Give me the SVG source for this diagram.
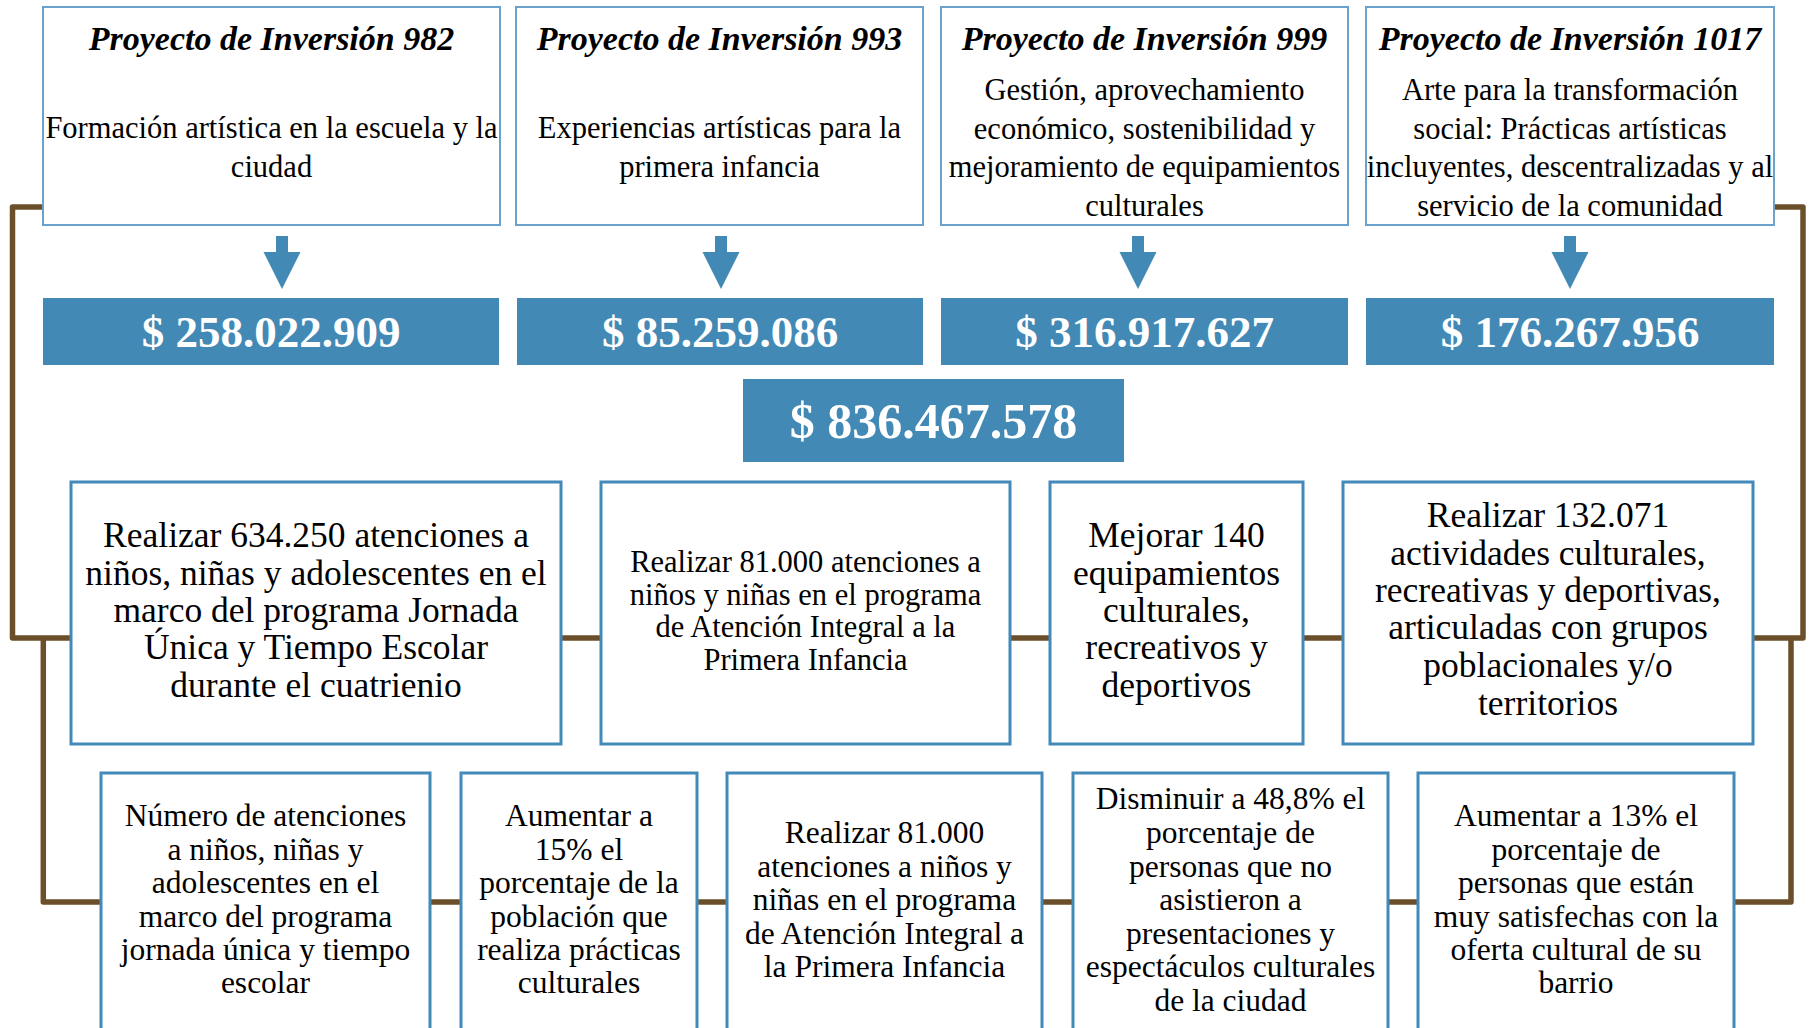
<svg xmlns="http://www.w3.org/2000/svg" width="1810" height="1028" viewBox="0 0 1810 1028">
<style>
  .bg { fill: #ffffff; }
  .top { fill: #ffffff; stroke: #6aa2cc; stroke-width: 2; }
  .box { fill: #ffffff; stroke: #4389ba; stroke-width: 3; }
  .val { fill: #428ab5; }
  .arrow { fill: #428ab5; }
  .conn { fill: none; stroke: #6b4f2a; stroke-width: 5.5; stroke-linejoin: round; stroke-linecap: butt; }
  text { font-family: "Liberation Serif", "Times New Roman", serif; fill: #000000; text-anchor: middle; }
  .title { font-size: 34px; font-style: italic; font-weight: bold; }
  .body { font-size: 30.5px; }
  .valt { font-size: 45px; font-weight: bold; fill: #ffffff; }
  .tot { font-size: 50px; font-weight: bold; fill: #ffffff; }
  .mid { font-size: 35.5px; }
  .mid2 { font-size: 30.5px; }
  .low { font-size: 31.5px; }
</style>
<rect class="bg" x="0" y="0" width="1810" height="1028"/>

<g id="connectors">
  <polyline class="conn" points="43,207 12.5,207 12.5,638 71,638"/>
  <polyline class="conn" points="43.3,638 43.3,902 101,902"/>
  <polyline class="conn" points="1774,207 1803,207 1803,638 1753,638"/>
  <polyline class="conn" points="1791,638 1791,902 1734,902"/>
  <line class="conn" x1="561" y1="638" x2="601" y2="638"/>
  <line class="conn" x1="1010" y1="638" x2="1050" y2="638"/>
  <line class="conn" x1="1303" y1="638" x2="1343" y2="638"/>
  <line class="conn" x1="430" y1="902" x2="461" y2="902"/>
  <line class="conn" x1="697" y1="902" x2="727" y2="902"/>
  <line class="conn" x1="1042" y1="902" x2="1073" y2="902"/>
  <line class="conn" x1="1388" y1="902" x2="1418" y2="902"/>
</g>

<g id="arrows">
  <polygon class="arrow" points="276,236 288,236 288,252 300.5,252 282,289 263.5,252 276,252"/>
  <polygon class="arrow" points="715,236 727,236 727,252 739.5,252 721,289 702.5,252 715,252"/>
  <polygon class="arrow" points="1132,236 1144,236 1144,252 1156.5,252 1138,289 1119.5,252 1132,252"/>
  <polygon class="arrow" points="1564,236 1576,236 1576,252 1588.5,252 1570,289 1551.5,252 1564,252"/>
</g>

<g id="p982">
  <rect class="top" x="43" y="7" width="457" height="218"/>
  <text class="title" x="271.5" y="50">Proyecto de Inversión 982</text>
  <text class="body" x="271.5" y="138">Formación artística en la escuela y la</text>
  <text class="body" x="271.5" y="177">ciudad</text>
</g>
<g id="p993">
  <rect class="top" x="516" y="7" width="407" height="218"/>
  <text class="title" x="719.5" y="50">Proyecto de Inversión 993</text>
  <text class="body" x="719.5" y="138">Experiencias artísticas para la</text>
  <text class="body" x="719.5" y="177">primera infancia</text>
</g>
<g id="p999">
  <rect class="top" x="941" y="7" width="407" height="218"/>
  <text class="title" x="1144.5" y="50">Proyecto de Inversión 999</text>
  <text class="body" x="1144.5" y="100">Gestión, aprovechamiento</text>
  <text class="body" x="1144.5" y="138.5">económico, sostenibilidad y</text>
  <text class="body" x="1144.5" y="177">mejoramiento de equipamientos</text>
  <text class="body" x="1144.5" y="215.5">culturales</text>
</g>
<g id="p1017">
  <rect class="top" x="1366" y="7" width="408" height="218"/>
  <text class="title" x="1570" y="50">Proyecto de Inversión 1017</text>
  <text class="body" x="1570" y="100">Arte para la transformación</text>
  <text class="body" x="1570" y="138.5">social: Prácticas artísticas</text>
  <text class="body" x="1570" y="177">incluyentes, descentralizadas y al</text>
  <text class="body" x="1570" y="215.5">servicio de la comunidad</text>
</g>

<g id="v982">
  <rect class="val" x="43" y="298" width="456" height="67"/>
  <text class="valt" x="271" y="347">$ 258.022.909</text>
</g>
<g id="v993">
  <rect class="val" x="517" y="298" width="406" height="67"/>
  <text class="valt" x="720" y="347">$ 85.259.086</text>
</g>
<g id="v999">
  <rect class="val" x="941" y="298" width="407" height="67"/>
  <text class="valt" x="1144.5" y="347">$ 316.917.627</text>
</g>
<g id="v1017">
  <rect class="val" x="1366" y="298" width="408" height="67"/>
  <text class="valt" x="1570" y="347">$ 176.267.956</text>
</g>
<g id="total">
  <rect class="val" x="743" y="379" width="381" height="83"/>
  <text class="tot" x="933.5" y="438">$ 836.467.578</text>
</g>

<g id="m1">
  <rect class="box" x="71" y="482" width="490" height="262"/>
  <text class="mid" x="316" y="547">Realizar 634.250 atenciones a</text>
  <text class="mid" x="316" y="585">niños, niñas y adolescentes en el</text>
  <text class="mid" x="316" y="622">marco del programa Jornada</text>
  <text class="mid" x="316" y="659">Única y Tiempo Escolar</text>
  <text class="mid" x="316" y="697">durante el cuatrienio</text>
</g>
<g id="m2">
  <rect class="box" x="601" y="482" width="409" height="262"/>
  <text class="mid2" x="805.5" y="572">Realizar 81.000 atenciones a</text>
  <text class="mid2" x="805.5" y="605">niños y niñas en el programa</text>
  <text class="mid2" x="805.5" y="637">de Atención Integral a la</text>
  <text class="mid2" x="805.5" y="670">Primera Infancia</text>
</g>
<g id="m3">
  <rect class="box" x="1050" y="482" width="253" height="262"/>
  <text class="mid" x="1176.5" y="547">Mejorar 140</text>
  <text class="mid" x="1176.5" y="585">equipamientos</text>
  <text class="mid" x="1176.5" y="622">culturales,</text>
  <text class="mid" x="1176.5" y="659">recreativos y</text>
  <text class="mid" x="1176.5" y="697">deportivos</text>
</g>
<g id="m4">
  <rect class="box" x="1343" y="482" width="410" height="262"/>
  <text class="mid" x="1548" y="527">Realizar 132.071</text>
  <text class="mid" x="1548" y="565">actividades culturales,</text>
  <text class="mid" x="1548" y="602">recreativas y deportivas,</text>
  <text class="mid" x="1548" y="639">articuladas con grupos</text>
  <text class="mid" x="1548" y="677">poblacionales y/o</text>
  <text class="mid" x="1548" y="715">territorios</text>
</g>

<g id="l1">
  <rect class="box" x="101" y="773" width="329" height="280"/>
  <text class="low" x="265.5" y="826">Número de atenciones</text>
  <text class="low" x="265.5" y="860">a niños, niñas y</text>
  <text class="low" x="265.5" y="893">adolescentes en el</text>
  <text class="low" x="265.5" y="927">marco del programa</text>
  <text class="low" x="265.5" y="960">jornada única y tiempo</text>
  <text class="low" x="265.5" y="993">escolar</text>
</g>
<g id="l2">
  <rect class="box" x="461" y="773" width="236" height="280"/>
  <text class="low" x="579" y="826">Aumentar a</text>
  <text class="low" x="579" y="860">15% el</text>
  <text class="low" x="579" y="893">porcentaje de la</text>
  <text class="low" x="579" y="927">población que</text>
  <text class="low" x="579" y="960">realiza prácticas</text>
  <text class="low" x="579" y="993">culturales</text>
</g>
<g id="l3">
  <rect class="box" x="727" y="773" width="315" height="280"/>
  <text class="low" x="884.5" y="843">Realizar 81.000</text>
  <text class="low" x="884.5" y="877">atenciones a niños y</text>
  <text class="low" x="884.5" y="910">niñas en el programa</text>
  <text class="low" x="884.5" y="944">de Atención Integral a</text>
  <text class="low" x="884.5" y="977">la Primera Infancia</text>
</g>
<g id="l4">
  <rect class="box" x="1073" y="773" width="315" height="280"/>
  <text class="low" x="1230.5" y="809">Disminuir a 48,8% el</text>
  <text class="low" x="1230.5" y="843">porcentaje de</text>
  <text class="low" x="1230.5" y="877">personas que no</text>
  <text class="low" x="1230.5" y="910">asistieron a</text>
  <text class="low" x="1230.5" y="944">presentaciones y</text>
  <text class="low" x="1230.5" y="977">espectáculos culturales</text>
  <text class="low" x="1230.5" y="1011">de la ciudad</text>
</g>
<g id="l5">
  <rect class="box" x="1418" y="773" width="316" height="280"/>
  <text class="low" x="1576" y="826">Aumentar a 13% el</text>
  <text class="low" x="1576" y="860">porcentaje de</text>
  <text class="low" x="1576" y="893">personas que están</text>
  <text class="low" x="1576" y="927">muy satisfechas con la</text>
  <text class="low" x="1576" y="960">oferta cultural de su</text>
  <text class="low" x="1576" y="993">barrio</text>
</g>
</svg>
